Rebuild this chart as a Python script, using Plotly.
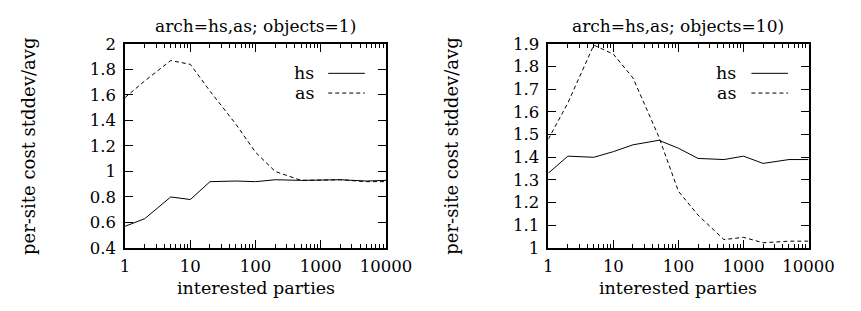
import plotly.graph_objects as go

parties = [1, 2, 5, 10, 20, 50, 100, 200, 500, 1000, 2000, 5000, 10000]
obj1_hs = [0.57, 0.63, 0.80, 0.78, 0.92, 0.925, 0.92, 0.935, 0.93, 0.93, 0.935, 0.925, 0.93]
obj1_as = [1.58, 1.71, 1.87, 1.84, 1.63, 1.37, 1.15, 1.00, 0.93, 0.93, 0.935, 0.92, 0.92]
obj10_hs = [1.33, 1.405, 1.40, 1.425, 1.455, 1.475, 1.44, 1.395, 1.39, 1.405, 1.373, 1.39, 1.39]
obj10_as = [1.48, 1.64, 1.895, 1.855, 1.75, 1.49, 1.25, 1.145, 1.037, 1.047, 1.023, 1.03, 1.03]

x_ticks = [1, 10, 100, 1000, 10000]
x_ticktext = ["1", "10", "100", "1000", "10000"]
y1_ticks = [0.4, 0.6, 0.8, 1.0, 1.2, 1.4, 1.6, 1.8, 2.0]
y1_text = ["0.4", "0.6", "0.8", "1", "1.2", "1.4", "1.6", "1.8", "2"]
y10_ticks = [1.0, 1.1, 1.2, 1.3, 1.4, 1.5, 1.6, 1.7, 1.8, 1.9]
y10_text = ["1", "1.1", "1.2", "1.3", "1.4", "1.5", "1.6", "1.7", "1.8", "1.9"]
titles = ["arch=hs,as; objects=1)", "arch=hs,as; objects=10)"]
series_names = ["hs", "as"]

minor_x = [m * 10 ** e for e in range(0, 4) for m in range(2, 10)]

W, H = 861, 311
OFF = 8  # page body margin
FONT = "DejaVu Serif"


def px(x):
    return (x - OFF) / W


def py(y):
    return 1 - (y - OFF) / H


fig = go.Figure()
line_hs = dict(color="black", width=1)
line_as = dict(color="black", width=1, dash="4px,3px")

fig.add_trace(go.Scatter(x=parties, y=obj1_hs, mode="lines", line=line_hs, xaxis="x", yaxis="y", showlegend=False))
fig.add_trace(go.Scatter(x=parties, y=obj1_as, mode="lines", line=line_as, xaxis="x", yaxis="y", showlegend=False))
fig.add_trace(go.Scatter(x=parties, y=obj10_hs, mode="lines", line=line_hs, xaxis="x2", yaxis="y2", showlegend=False))
fig.add_trace(go.Scatter(x=parties, y=obj10_as, mode="lines", line=line_as, xaxis="x2", yaxis="y2", showlegend=False))

boxes = [(124.3, 395.0), (563.3, 833.3)]
top, bottom = 36.7, 254.0
ydom = [py(bottom), py(top)]


def xaxis(dom, anchor):
    return dict(
        type="log", domain=dom, range=[0, 4], anchor=anchor,
        tickvals=x_ticks, ticktext=x_ticktext,
        ticks="inside", ticklen=8, tickwidth=1, tickcolor="black",
        minor=dict(tickvals=minor_x, ticks="inside", ticklen=4, tickwidth=1, tickcolor="black"),
        showline=True, linecolor="black", linewidth=1.5, mirror="allticks",
        showgrid=False, zeroline=False, ticklabelstandoff=2,
        tickfont=dict(family=FONT, size=16.5, color="black"),
    )


def yaxis(rng, vals, text, anchor):
    return dict(
        domain=ydom, range=rng, tickvals=vals, ticktext=text, anchor=anchor,
        ticks="inside", ticklen=8, tickwidth=1, tickcolor="black",
        showline=True, linecolor="black", linewidth=1.5, mirror="allticks",
        showgrid=False, zeroline=False, ticklabelstandoff=4,
        tickfont=dict(family=FONT, size=16.5, color="black"),
    )


fig.update_layout(
    width=W, height=H,
    margin=dict(l=0, r=0, t=0, b=0),
    paper_bgcolor="white", plot_bgcolor="white",
    xaxis=xaxis([px(boxes[0][0]), px(boxes[0][1])], "y"),
    yaxis=yaxis([0.4, 2.0], y1_ticks, y1_text, "x"),
    xaxis2=xaxis([px(boxes[1][0]), px(boxes[1][1])], "y2"),
    yaxis2=yaxis([1.0, 1.9], y10_ticks, y10_text, "x2"),
)

annotations = []
shapes = []
for i, (l, r) in enumerate(boxes):
    cx = (l + r) / 2
    annotations.append(dict(text=titles[i], x=px(cx), y=py(18), xref="paper", yref="paper",
                            showarrow=False, font=dict(family=FONT, size=17, color="black"),
                            xanchor="center", yanchor="middle"))
    annotations.append(dict(text="interested parties", x=px(cx), y=py(297), xref="paper", yref="paper",
                            showarrow=False, font=dict(family=FONT, size=17.5, color="black"),
                            xanchor="center", yanchor="middle"))
    ylab_x = [24, 462.5][i]
    annotations.append(dict(text="per-site cost stddev/avg", x=px(ylab_x), y=py(146),
                            xref="paper", yref="paper", showarrow=False, textangle=-90,
                            font=dict(family=FONT, size=18, color="black"),
                            xanchor="center", yanchor="middle"))
    text_right = [322, 760][i]
    ls, le = [(335, 373), (774, 812)][i]
    for j, (name, yy) in enumerate(zip(series_names, [68, 89])):
        annotations.append(dict(text=name, x=px(text_right), y=py(yy), xref="paper", yref="paper",
                                showarrow=False, font=dict(family=FONT, size=17.5, color="black"),
                                xanchor="right", yanchor="middle"))
        shapes.append(dict(type="line", xref="paper", yref="paper", x0=px(ls), x1=px(le),
                           y0=py(yy), y1=py(yy),
                           line=dict(color="black", width=1, dash="solid" if j == 0 else "4px,3px")))

fig.update_layout(annotations=annotations, shapes=shapes)
fig.write_html("out.html")
